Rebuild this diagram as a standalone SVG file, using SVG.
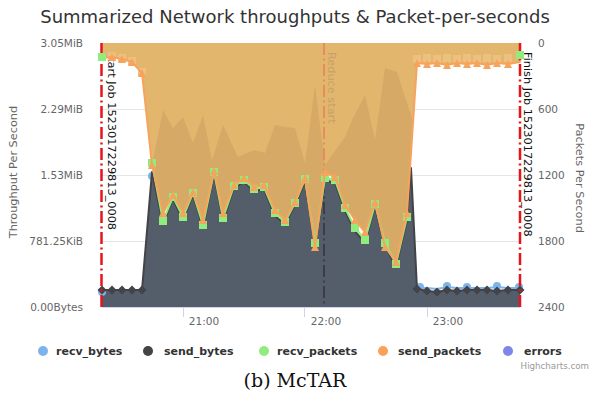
<svg xmlns="http://www.w3.org/2000/svg" xmlns:xlink="http://www.w3.org/1999/xlink" width="590" height="396" viewBox="0 0 590 396">
  <style>
    .grid { stroke: #e6e6e6; stroke-width: 1; fill: none; }
    .axis { stroke: #ccd6eb; stroke-width: 1; fill: none; }
    .lab { font-family: "DejaVu Sans", Verdana, sans-serif; font-size: 10.5px; fill: #666; }
    .ttl { font-family: "DejaVu Sans", Verdana, sans-serif; font-size: 11.3px; fill: #666; }
    .job { font-family: "DejaVu Sans", Verdana, sans-serif; font-size: 11.3px; fill: #111; }
    .plotline { stroke: #e8141c; stroke-width: 2.5; fill: none; stroke-dasharray: 12 3.5 2 3.5; }
    .leg { font-family: "DejaVu Sans", Verdana, sans-serif; font-size: 11px; font-weight: bold; fill: #333; }
    .line { fill: none; stroke-width: 2; stroke-linejoin: round; stroke-linecap: round; }
  </style>
  <defs>
    <path id="tri" d="M0,-4L4,4H-4Z"/>
    <rect id="sq" x="-4" y="-4" width="8" height="8"/>
    <path id="dia" d="M0,-4.5L4.5,0L0,4.5L-4.5,0Z"/>
  </defs>

  <rect width="590" height="396" fill="#ffffff"/>

  <!-- title -->
  <text x="295" y="23" text-anchor="middle" font-family="DejaVu Sans, Verdana, sans-serif" font-size="18" fill="#333">Summarized Network throughputs &amp; Packet-per-seconds</text>

  <!-- grid -->
  <g id="grid">
    <path class="grid" d="M102,43.5H520M102,109.5H520M102,175.5H520M102,241.5H520"/>
    <path class="axis" d="M102,307.5H520M183.5,307V317M304.5,307V317M427.5,307V317"/>
  </g>

  <!-- left axis -->
  <g id="axis-left" class="lab" text-anchor="end">
    <text x="83" y="47">3.05MiB</text>
    <text x="83" y="113">2.29MiB</text>
    <text x="83" y="179">1.53MiB</text>
    <text x="83" y="245">781.25KiB</text>
    <text x="83" y="311">0.00Bytes</text>
  </g>
  <text class="ttl" transform="translate(16.5,172) rotate(-90)" text-anchor="middle">Throughput Per Second</text>

  <!-- right axis -->
  <g id="axis-right" class="lab">
    <text x="538" y="47">0</text>
    <text x="538" y="113">600</text>
    <text x="538" y="179">1200</text>
    <text x="538" y="245">1800</text>
    <text x="538" y="311">2400</text>
  </g>
  <text class="ttl" transform="translate(576,178) rotate(90)" text-anchor="middle">Packets Per Second</text>

  <!-- time axis -->
  <g id="axis-time" class="lab" text-anchor="middle">
    <text x="204" y="325">21:00</text>
    <text x="326" y="325">22:00</text>
    <text x="448" y="325">23:00</text>
  </g>

  <!-- job label sits under the series -->
  <text class="job" transform="translate(107.5,50) rotate(90)">Start Job 1523017229813_0008</text>

  <!-- packet areas (reversed axis, filled from the top) -->
  <g id="series-packets-area">
    <path fill="#e3b66d" d="M102,43H520V62L508,64L497,63L487,65L477,63L467,64L457,63L447,65L437,63L427,64L417,63L407,213L396,262L385,247L375,202L365,232L355,220L345,205L335,177L325,172L315,247L305,178L295,202L285,220L275,210L264,185L254,187L244,178L234,185L223,213L214,171L203,220L193,192L183,213L173,195L163,213L152,165L142,73L132,62L122,59L112,57L102,58Z"/>
    <path fill="#d7a966" d="M152,165L163,110L173,128L183,117L193,143L203,115L212,160L223,125L238,157L254,150L265,153L275,125L285,127L295,128L305,163L315,85L325,165L345,137L353,118L365,95L375,140L385,68L397,72L412,118L411,153L407,213L396,262L385,247L375,202L365,232L355,220L345,205L335,177L325,172L315,247L305,178L295,202L285,220L275,210L264,185L254,187L244,178L234,185L223,213L214,171L203,220L193,192L183,213L173,195L163,213Z"/>
  </g>

  <!-- recv_packets markers hidden under the send_packets fill -->
  <g id="recv-packets-tinted" fill="#edc080">
    <use href="#sq" x="112" y="56"/><use href="#sq" x="122" y="58"/><use href="#sq" x="132" y="61"/><use href="#sq" x="142" y="72"/>
    <use href="#sq" x="417" y="59"/><use href="#sq" x="427" y="58"/><use href="#sq" x="437" y="59"/><use href="#sq" x="447" y="58"/><use href="#sq" x="457" y="59"/>
    <use href="#sq" x="467" y="58"/><use href="#sq" x="477" y="59"/><use href="#sq" x="487" y="58"/><use href="#sq" x="497" y="59"/><use href="#sq" x="508" y="58"/>
  </g>

  <!-- byte areas -->
  <g id="series-bytes">
    <path fill="#545d6a" d="M102,307V290L112,290L122,290L132,290L142,290L152,172L163,224L173,199L183,220L193,195L203,228L214,174L223,221L234,188L244,182L254,191L264,189L275,216L285,224L295,205L305,181L315,246L325,180L335,183L345,211L355,231L365,243L375,206L385,246L396,267L407,220L411,168L417,289L427,291L437,292L447,290L457,291L467,290L477,290L487,290L497,291L508,290L520,290V307Z"/>
    <path class="line" stroke="#7cb5ec" d="M417,288L427,288L437,289L447,287L457,288L467,288L477,288L487,288L497,287L508,288L520,288"/>
    <g fill="#7cb5ec">
      <circle cx="102" cy="292" r="4"/><circle cx="152" cy="176" r="4"/>
      <circle cx="420" cy="287" r="4"/><circle cx="447" cy="286" r="4"/><circle cx="467" cy="287" r="4"/><circle cx="497" cy="286" r="4"/><circle cx="519" cy="287" r="4"/>
    </g>
    <path class="line" stroke="#434348" d="M102,290L112,290L122,290L132,290L142,290L152,172L163,224L173,199L183,220L193,195L203,228L214,174L223,221L234,188L244,182L254,191L264,189L275,216L285,224L295,205L305,181L315,246L325,180L335,183L345,211L355,231L365,243L375,206L385,246L396,267L407,220L411,168L417,289L427,291L437,292L447,290L457,291L467,290L477,290L487,290L497,291L508,290L520,290"/>
    <g fill="#434348">
      <use href="#dia" x="102" y="290"/><use href="#dia" x="112" y="290"/><use href="#dia" x="122" y="290"/><use href="#dia" x="132" y="290"/><use href="#dia" x="142" y="290"/>
      <use href="#dia" x="417" y="289"/><use href="#dia" x="427" y="291"/><use href="#dia" x="437" y="292"/><use href="#dia" x="447" y="290"/><use href="#dia" x="457" y="291"/>
      <use href="#dia" x="467" y="290"/><use href="#dia" x="477" y="290"/><use href="#dia" x="487" y="290"/><use href="#dia" x="497" y="291"/><use href="#dia" x="508" y="290"/><use href="#dia" x="520" y="290"/>
    </g>
  </g>

  <!-- reduce phase marker, seen through the series fills -->
  <g id="reduce-start">
    <path class="plotline" style="stroke:#e38a5a;stroke-width:1.8" d="M324,43V171"/>
    <path class="plotline" style="stroke:#3b3843;stroke-width:1.8" d="M324,181V307"/>
    <text class="job" style="fill:#c7a06c" transform="translate(328,52) rotate(90)">Reduce start</text>
  </g>

  <!-- recv_packets -->
  <g id="series-recv-packets">
    <path class="line" stroke="#90ed7d" d="M152,163L163,221L173,197L183,217L193,193L203,225L214,172L223,218L234,186L244,180L254,189L264,187L275,213L285,222L295,203L305,179L315,243L325,178L335,180L345,208L355,228L365,240L375,204L385,243L396,264L407,217"/>
    <g fill="#90ed7d">
      <use href="#sq" x="152" y="163"/><use href="#sq" x="163" y="221"/><use href="#sq" x="173" y="197"/><use href="#sq" x="183" y="217"/><use href="#sq" x="193" y="193"/>
      <use href="#sq" x="203" y="225"/><use href="#sq" x="214" y="172"/><use href="#sq" x="223" y="218"/><use href="#sq" x="234" y="186"/><use href="#sq" x="244" y="180"/>
      <use href="#sq" x="254" y="189"/><use href="#sq" x="264" y="187"/><use href="#sq" x="275" y="213"/><use href="#sq" x="285" y="222"/><use href="#sq" x="295" y="203"/>
      <use href="#sq" x="305" y="179"/><use href="#sq" x="315" y="243"/><use href="#sq" x="325" y="178"/><use href="#sq" x="335" y="180"/><use href="#sq" x="345" y="208"/>
      <use href="#sq" x="355" y="228"/><use href="#sq" x="365" y="240"/><use href="#sq" x="375" y="204"/><use href="#sq" x="385" y="243"/><use href="#sq" x="396" y="264"/>
      <use href="#sq" x="407" y="217"/>
    </g>
  </g>

  <!-- send_packets -->
  <g id="series-send-packets">
    <path class="line" stroke="#f7a35c" d="M102,58L112,57L122,59L132,62L142,73L152,165L163,213L173,195L183,213L193,192L203,220L214,171L223,213L234,185L244,178L254,187L264,185L275,210L285,220L295,202L305,178L315,247L325,172L335,177L345,205L355,220L365,232L375,202L385,247L396,262L407,213L417,63L427,64L437,63L447,65L457,63L467,64L477,63L487,65L497,63L508,64L520,62"/>
    <g fill="#f7a35c">
      <use href="#tri" x="112" y="57"/><use href="#tri" x="122" y="59"/><use href="#tri" x="132" y="62"/><use href="#tri" x="142" y="73"/>
      <use href="#tri" x="152" y="165"/><use href="#tri" x="163" y="213"/><use href="#tri" x="173" y="195"/><use href="#tri" x="183" y="213"/><use href="#tri" x="193" y="192"/>
      <use href="#tri" x="203" y="220"/><use href="#tri" x="214" y="171"/><use href="#tri" x="223" y="213"/><use href="#tri" x="234" y="185"/><use href="#tri" x="244" y="178"/>
      <use href="#tri" x="254" y="187"/><use href="#tri" x="264" y="185"/><use href="#tri" x="275" y="210"/><use href="#tri" x="285" y="220"/><use href="#tri" x="295" y="202"/>
      <use href="#tri" x="305" y="178"/><use href="#tri" x="315" y="247"/><use href="#tri" x="325" y="172"/><use href="#tri" x="335" y="177"/><use href="#tri" x="345" y="205"/>
      <use href="#tri" x="355" y="220"/><use href="#tri" x="365" y="232"/><use href="#tri" x="375" y="202"/><use href="#tri" x="385" y="247"/><use href="#tri" x="396" y="262"/>
      <use href="#tri" x="407" y="213"/><use href="#tri" x="417" y="63"/><use href="#tri" x="427" y="64"/><use href="#tri" x="437" y="63"/><use href="#tri" x="447" y="65"/>
      <use href="#tri" x="457" y="63"/><use href="#tri" x="467" y="64"/><use href="#tri" x="477" y="63"/><use href="#tri" x="487" y="65"/><use href="#tri" x="497" y="63"/>
      <use href="#tri" x="508" y="64"/>
    </g>
  </g>

  <!-- job boundaries -->
  <g id="job-bounds">
    <path class="plotline" d="M101.5,43V307"/>
    <path class="plotline" d="M520,43V309"/>
    <text class="job" transform="translate(524,52) rotate(90)">Finish Job 1523017229813_0008</text>
  </g>
  <g fill="#90ed7d">
    <use href="#sq" x="102" y="57"/>
    <use href="#sq" x="520" y="55"/>
  </g>

  <!-- legend -->
  <g id="legend">
    <circle cx="43" cy="351" r="5" fill="#7cb5ec"/><text class="leg" x="56" y="355">recv_bytes</text>
    <circle cx="148" cy="351" r="5" fill="#434348"/><text class="leg" x="164" y="355">send_bytes</text>
    <circle cx="264" cy="351" r="5" fill="#90ed7d"/><text class="leg" x="277" y="355">recv_packets</text>
    <circle cx="383" cy="351" r="5" fill="#f7a35c"/><text class="leg" x="398" y="355">send_packets</text>
    <circle cx="508" cy="351" r="5" fill="#8085e9"/><text class="leg" x="524" y="355">errors</text>
  </g>
  <text x="589" y="369" text-anchor="end" font-family="DejaVu Sans, Verdana, sans-serif" font-size="8.7" fill="#999">Highcharts.com</text>

  <!-- caption -->
  <text x="295" y="387" text-anchor="middle" font-family="DejaVu Serif, Liberation Serif, serif" font-size="19" fill="#111">(b) McTAR</text>
</svg>
